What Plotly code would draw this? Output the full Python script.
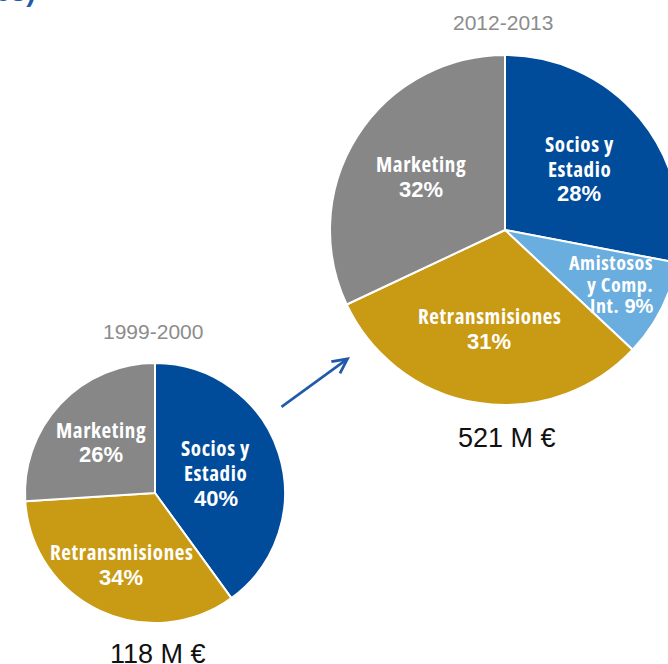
import math
import plotly.graph_objects as go

# ---- data ----
cats_old = ["Socios y Estadio", "Retransmisiones", "Marketing"]
vals_old = [40, 34, 26]
cats_new = ["Socios y Estadio", "Amistosos y Comp. Int.", "Retransmisiones", "Marketing"]
vals_new = [28, 9, 31, 32]
year_old = "1999-2000"
year_new = "2012-2013"
total_old = "118 M €"
total_new = "521 M €"

# ---- style ----
colors = {
    "Socios y Estadio": "#014C9A",
    "Amistosos y Comp. Int.": "#6AAEE0",
    "Retransmisiones": "#C99A14",
    "Marketing": "#878787",
}
label_lines = {
    "Socios y Estadio": ["Socios y", "Estadio"],
    "Amistosos y Comp. Int.": ["Amistosos", "y Comp.", "Int."],
    "Retransmisiones": ["Retransmisiones"],
    "Marketing": ["Marketing"],
}
# font size, line gap (px) and alignment of each label
label_size = {"Amistosos y Comp. Int.": 20}
label_gap = {"Amistosos y Comp. Int.": 21.5}
right_aligned = {"Amistosos y Comp. Int.": 44}  # half block width for right alignment
# radial position of each label, as a fraction of the radius
label_r_old = {"Socios y Estadio": 0.49, "Retransmisiones": 0.61, "Marketing": 0.57}
label_r_new = {"Socios y Estadio": 0.55, "Amistosos y Comp. Int.": 0.68,
               "Retransmisiones": 0.57, "Marketing": 0.57}

COND = "<span style='font-stretch:75%%;letter-spacing:0.6px'>%s</span>"
PCT = "<span style='font-family:Liberation Sans, Arial, sans-serif;font-size:%dpx'>%d%%</span>"

W, H = 700, 664

def dom(x0, x1, y0, y1):
    return dict(x=[x0 / W, x1 / W], y=[1 - y1 / H, 1 - y0 / H])

ann = []

def add_pie(fig, cats, vals, box, rmap):
    x0, x1, y0, y1 = box
    fig.add_trace(go.Pie(
        labels=cats, values=vals, sort=False, direction="clockwise", rotation=0,
        marker=dict(colors=[colors[c] for c in cats], line=dict(color="white", width=2)),
        textinfo="none", domain=dom(*box), hoverinfo="label+percent", showlegend=False,
    ))
    cx, cy, R = (x0 + x1) / 2, (y0 + y1) / 2, (x1 - x0) / 2
    total = sum(vals)
    cum = 0
    for c, v in zip(cats, vals):
        mid = (cum + v / 2) / total * 2 * math.pi
        cum += v
        r = rmap[c] * R
        px, py = cx + r * math.sin(mid), cy - r * math.cos(mid)
        size = label_size.get(c, 21)
        gap = label_gap.get(c, 25)
        lines = [COND % s for s in label_lines[c]]
        pct = PCT % (size if c in right_aligned else size + 1, round(v / total * 100))
        if c in right_aligned:
            lines[-1] = lines[-1] + " " + pct
            xa, lx = "right", px + right_aligned[c]
        else:
            lines.append(pct)
            xa, lx = "center", px
        n = len(lines)
        for i, s in enumerate(lines):
            ly = py + (i - (n - 1) / 2) * gap
            ann.append(dict(x=lx / W, y=1 - ly / H, xref="paper", yref="paper",
                            text=s, showarrow=False, xanchor=xa, yanchor="middle",
                            font=dict(family="Open Sans, Noto Sans, sans-serif", size=size,
                                      color="white", weight="bold")))

fig = go.Figure()
add_pie(fig, cats_old, vals_old, (25, 285, 363, 623), label_r_old)
add_pie(fig, cats_new, vals_new, (330, 680, 55, 405), label_r_new)

def txt(x, y, s, size, color):
    ann.append(dict(x=x / W, y=1 - y / H, xref="paper", yref="paper", text=s, showarrow=False,
                    xanchor="center", yanchor="middle",
                    font=dict(family="Liberation Sans, Arial, sans-serif", size=size, color=color)))

txt(153, 331, year_old, 21, "#8C8C8C")
txt(503, 23, year_new, 21, "#8C8C8C")
txt(158, 654, total_old, 27, "#111111")
txt(507, 438, total_new, 27, "#111111")
ann.append(dict(x=0, y=1 - 9 / H, xref="paper", yref="paper", text="<b>es)</b>", showarrow=False,
                xanchor="left", yanchor="bottom", xshift=-7,
                font=dict(family="Liberation Sans, Arial, sans-serif", size=28, color="#1F5BA8")))
ann.append(dict(x=350 / W, y=1 - 357 / H, ax=-70, ay=51, xref="paper", yref="paper",
                axref="pixel", ayref="pixel", text="", showarrow=True, arrowhead=5,
                arrowsize=1.1, arrowwidth=2.6, arrowcolor="#1F5BA8"))

fig.update_layout(width=W, height=H, margin=dict(l=0, r=0, t=0, b=0),
                  paper_bgcolor="white", plot_bgcolor="white", annotations=ann)

fig.write_html("out.html", config={"displayModeBar": False},
               post_script="document.body.style.margin='0';document.body.style.overflow='hidden';document.documentElement.style.overflow='hidden';")
